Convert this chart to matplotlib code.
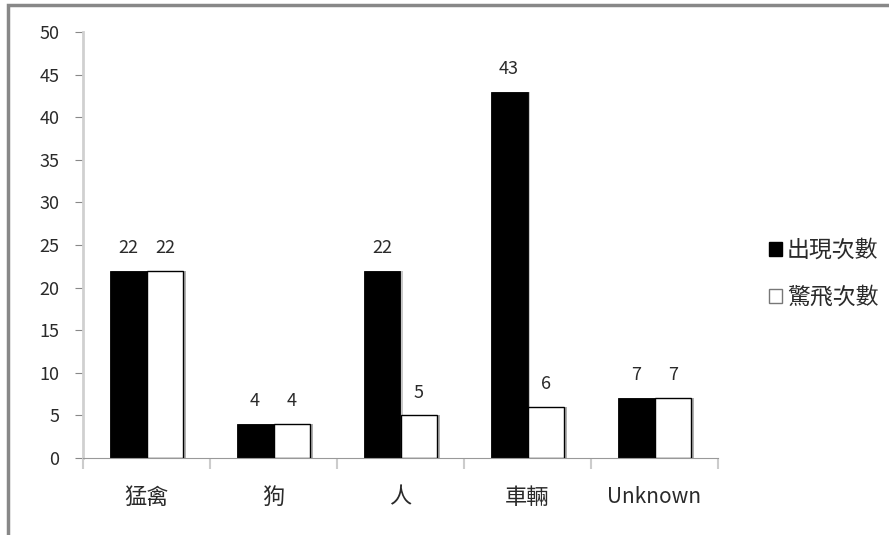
import numpy as np
import matplotlib.pyplot as plt
from matplotlib.patches import Rectangle, Patch

plt.rcParams['font.family'] = ['Noto Sans CJK TC', 'DejaVu Sans']

categories = ['猛禽', '狗', '人', '車輛', 'Unknown']
appear = [22, 4, 22, 43, 7]
flush = [22, 4, 5, 6, 7]
series_names = ['出現次數', '驚飛次數']

fig = plt.figure(figsize=(8.89, 5.35), dpi=100)
ax = fig.add_axes([83 / 889, 1 - 458 / 535, 635 / 889, 426 / 535])

# outer chart frame, only top and left edges are visible
fig.patches.append(Rectangle((8 / 889, -0.1), 1.2, 1 - 5 / 535 + 0.1,
                             transform=fig.transFigure, fill=False,
                             edgecolor='#888888', linewidth=2.5))

x = np.arange(len(categories))
w = 0.29
sh = 0.022  # shadow offset

ax.bar(x - w / 2 + sh, appear, w, color='#c8c8c8', zorder=1)
ax.bar(x + w / 2 + sh, flush, w, color='#b0b0b0', zorder=1)
b1 = ax.bar(x - w / 2, appear, w, color='black', edgecolor='black', linewidth=0.6, zorder=2)
b2 = ax.bar(x + w / 2, flush, w, color='white', edgecolor='black', linewidth=1.0, zorder=3)

for bars, vals in ((b1, appear), (b2, flush)):
    for r, v in zip(bars, vals):
        ax.annotate(str(v), (r.get_x() + r.get_width() / 2, v),
                    xytext=(0, 10), textcoords='offset points',
                    ha='center', va='bottom', fontsize=13, color='#2a2a2a')

ax.set_xlim(-0.5, len(categories) - 0.5)
ax.set_ylim(0, 50)
ax.set_yticks(np.arange(0, 51, 5))
ax.set_xticks(x)
ax.set_xticklabels(categories)
for lab in ax.get_xticklabels():
    lab.set_fontsize(15 if lab.get_text() == 'Unknown' else 16)
ax.set_xticks(np.arange(-0.5, len(categories)), minor=True)
ax.tick_params(axis='x', which='major', length=0, pad=20, labelcolor='#2a2a2a')
ax.tick_params(axis='x', which='minor', length=8, color='#cccccc', width=1.5)
ax.tick_params(axis='y', length=6, color='#888888', labelsize=13, labelcolor='#2a2a2a', pad=11)
for s in ('top', 'right'):
    ax.spines[s].set_visible(False)
ax.spines['left'].set_color('#d0d0d0')
ax.spines['left'].set_linewidth(2)
ax.spines['bottom'].set_color('#999999')

handles = [Patch(facecolor='black', edgecolor='black'),
           Patch(facecolor='white', edgecolor='#777777')]
fig.legend(handles, series_names, loc='center left', bbox_to_anchor=(748 / 889, 1 - 274 / 535),
           frameon=False, fontsize=16.5, handlelength=0.6, handleheight=0.6,
           handletextpad=0.2, labelspacing=1.05, labelcolor='#2a2a2a')

fig.savefig('out.png', dpi=100)
